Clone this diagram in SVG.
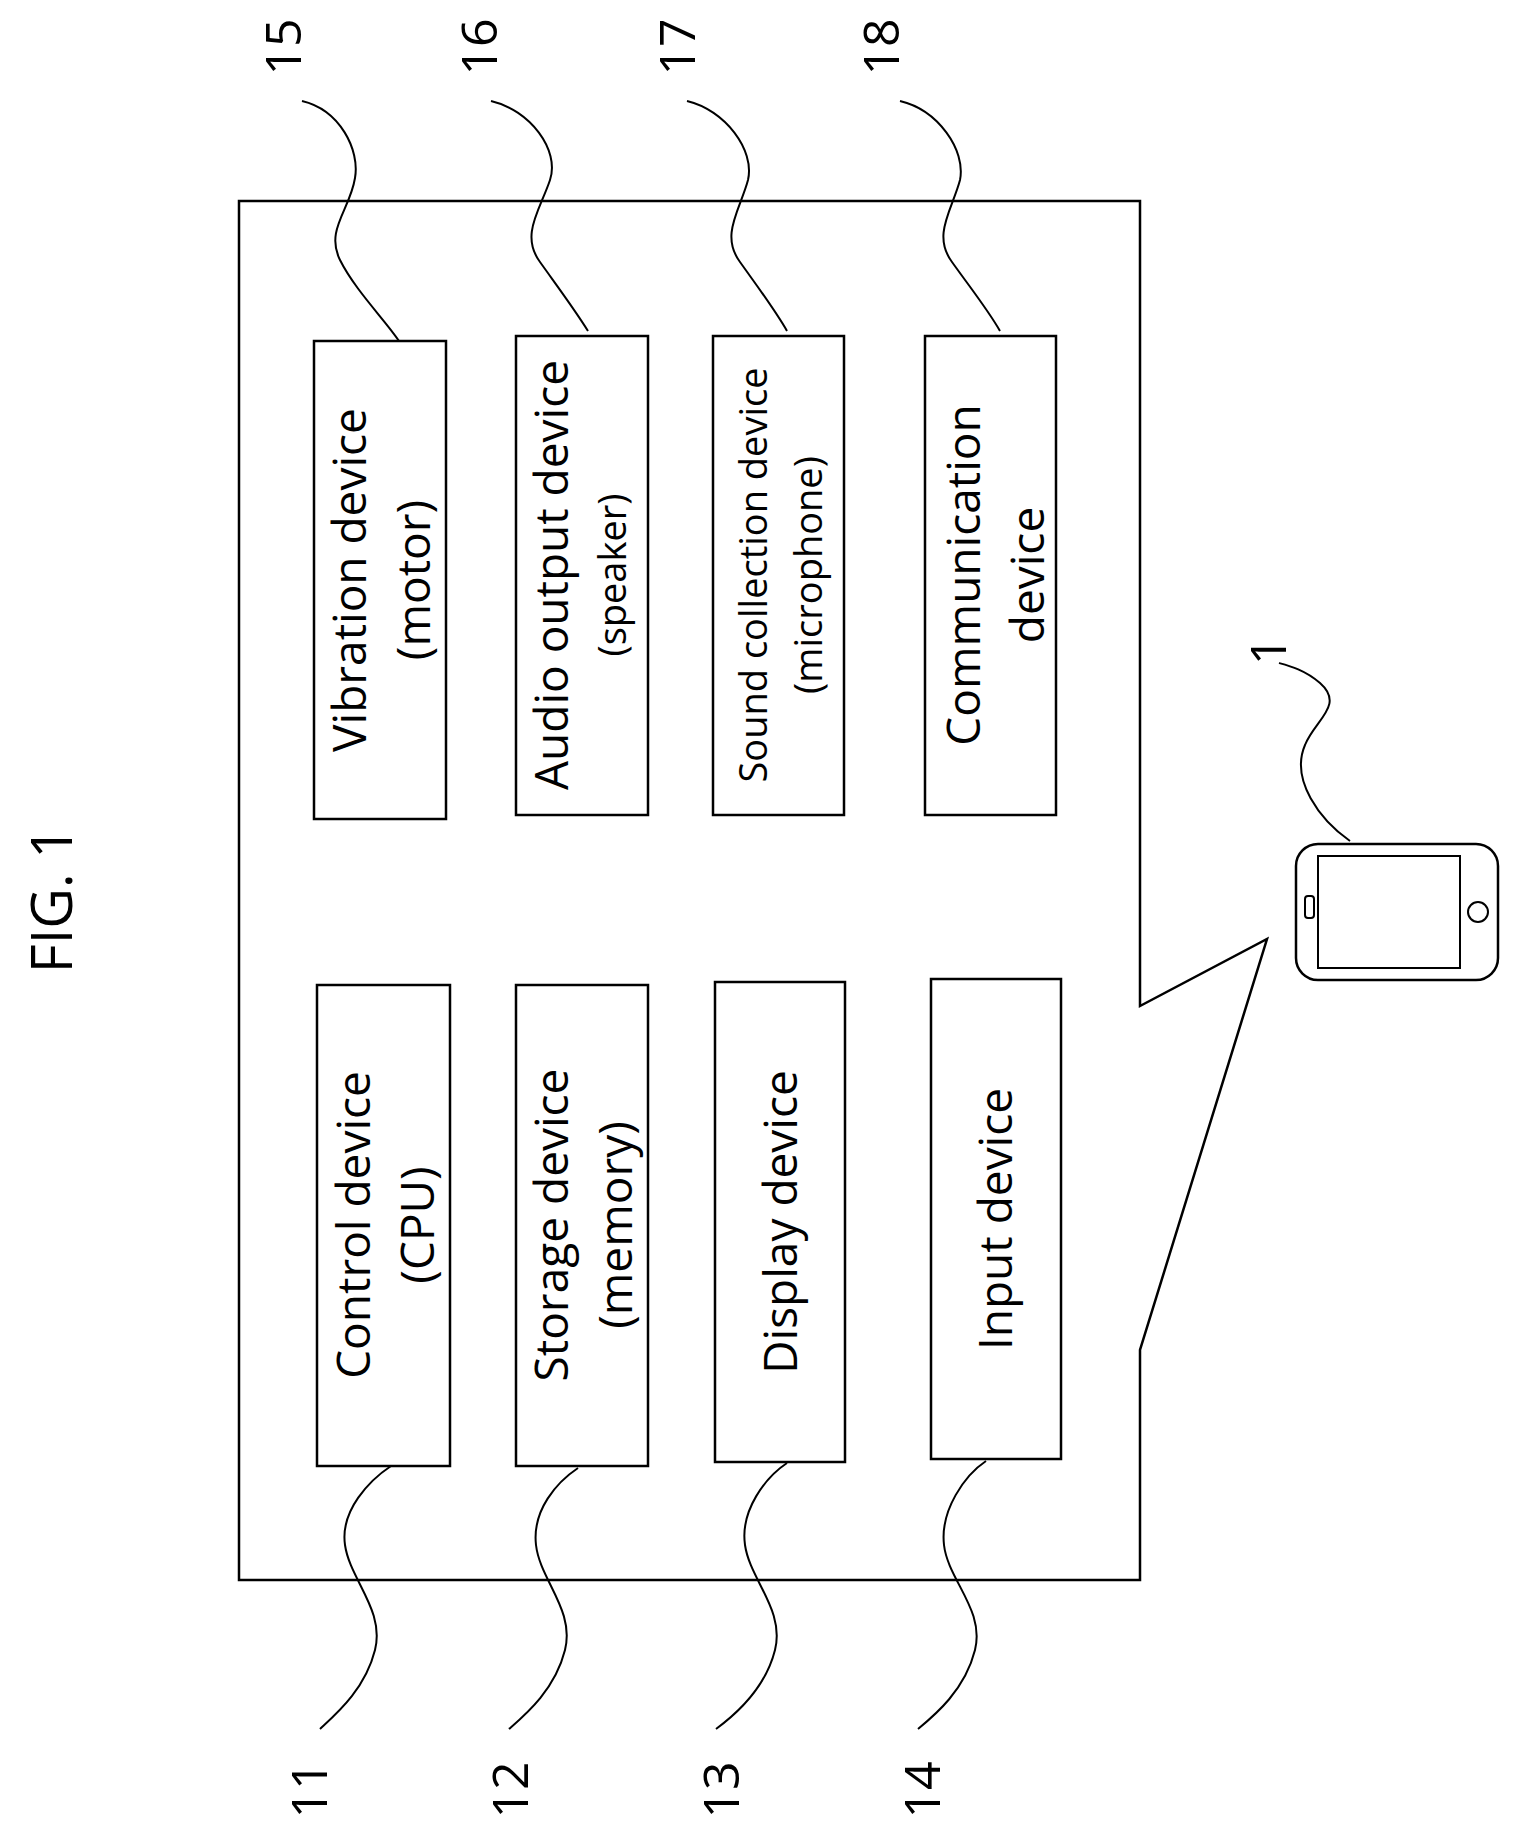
<svg xmlns="http://www.w3.org/2000/svg" width="1515" height="1848" viewBox="0 0 1515 1848">
<style>
.b{fill:#fff;stroke:#000;stroke-width:2.5}
.l{fill:none;stroke:#000;stroke-width:2}
text{font-family:"Open Sans","Liberation Sans",sans-serif;fill:#000}
.t{font-size:46px;text-anchor:middle}
.s{font-size:38px;text-anchor:middle}
.n{font-size:50px;text-anchor:middle}
</style>
<rect width="1515" height="1848" fill="#fff"/>
<text class="n" transform="translate(72,900) rotate(-90)" style="font-size:56px">FIG. 1</text>
<path id="outline" class="b" d="M239,201 H1140 V1006 L1267,939 L1140,1350 V1580 H239 Z"/>
<g id="n15"><rect class="b" x="314" y="341" width="132" height="478"/><text class="t" transform="translate(366,580) rotate(-90)">Vibration device</text><text class="t" transform="translate(430,580) rotate(-90)">(motor)</text></g>
<g id="n16"><rect class="b" x="516" y="336" width="132" height="479"/><text class="t" transform="translate(568,575) rotate(-90)">Audio output device</text><text class="s" transform="translate(626,575) rotate(-90)">(speaker)</text></g>
<g id="n17"><rect class="b" x="713" y="336" width="131" height="479"/><text class="s" transform="translate(767,575) rotate(-90)">Sound collection device</text><text class="s" transform="translate(822,575) rotate(-90)">(microphone)</text></g>
<g id="n18"><rect class="b" x="925" y="336" width="131" height="479"/><text class="t" transform="translate(980,575) rotate(-90)">Communication</text><text class="t" transform="translate(1044,575) rotate(-90)">device</text></g>
<g id="n11"><rect class="b" x="317" y="985" width="133" height="481"/><text class="t" transform="translate(370,1225) rotate(-90)">Control device</text><text class="t" transform="translate(434,1225) rotate(-90)">(CPU)</text></g>
<g id="n12"><rect class="b" x="516" y="985" width="132" height="481"/><text class="t" transform="translate(568,1225) rotate(-90)">Storage device</text><text class="t" transform="translate(632,1225) rotate(-90)">(memory)</text></g>
<g id="n13"><rect class="b" x="715" y="982" width="130" height="480"/><text class="t" transform="translate(797,1222) rotate(-90)">Display device</text></g>
<g id="n14"><rect class="b" x="931" y="979" width="130" height="480"/><text class="t" transform="translate(1012,1219) rotate(-90)">Input device</text></g>
<g id="n1"><rect class="b" x="1296" y="844" width="202" height="136" rx="22"/><rect class="b" x="1318" y="856" width="142" height="112" style="stroke-width:2"/><rect class="b" x="1305" y="896" width="9" height="22" rx="3" style="stroke-width:2"/><circle class="b" cx="1478" cy="912" r="10" style="stroke-width:2"/></g>
<g id="labels">
<text class="n" transform="translate(301,47) rotate(-90)">15</text>
<text class="n" transform="translate(497,47) rotate(-90)">16</text>
<text class="n" transform="translate(695,47) rotate(-90)">17</text>
<text class="n" transform="translate(899,47) rotate(-90)">18</text>
<text class="n" transform="translate(327,1790) rotate(-90)">11</text>
<text class="n" transform="translate(528,1790) rotate(-90)">12</text>
<text class="n" transform="translate(739,1790) rotate(-90)">13</text>
<text class="n" transform="translate(940,1790) rotate(-90)">14</text>
<text class="n" transform="translate(1286,651) rotate(-90)">1</text>
</g>
<g id="connectors">
<path class="l" d="M302,101 C340,110 360,150 355,178 C350,210 325,230 340,260 C355,290 385,320 399,341"/>
<path class="l" d="M491,101 C530,110 560,150 550,180 C540,210 520,235 540,262 C560,290 575,310 588,331"/>
<path class="l" d="M687,101 C725,110 755,150 748,180 C740,210 720,235 740,262 C760,290 775,310 787,331"/>
<path class="l" d="M900,101 C938,110 966,150 960,180 C952,210 932,235 952,262 C972,290 988,310 1000,331"/>
<path class="l" d="M391,1466 C370,1480 340,1510 345,1545 C350,1580 385,1610 375,1650 C365,1690 335,1715 320,1729"/>
<path class="l" d="M578,1468 C557,1482 532,1510 536,1545 C540,1580 575,1610 565,1650 C555,1690 525,1715 509,1729"/>
<path class="l" d="M787,1463 C766,1477 740,1510 745,1545 C750,1580 785,1610 775,1650 C765,1690 735,1715 716,1729"/>
<path class="l" d="M986,1461 C965,1475 940,1510 944,1545 C948,1580 985,1610 975,1650 C965,1690 935,1715 918,1729"/>
<path class="l" d="M1350,841 C1320,820 1290,780 1305,745 C1315,720 1345,705 1320,683 C1305,670 1290,666 1279,663"/>
</g>
</svg>
